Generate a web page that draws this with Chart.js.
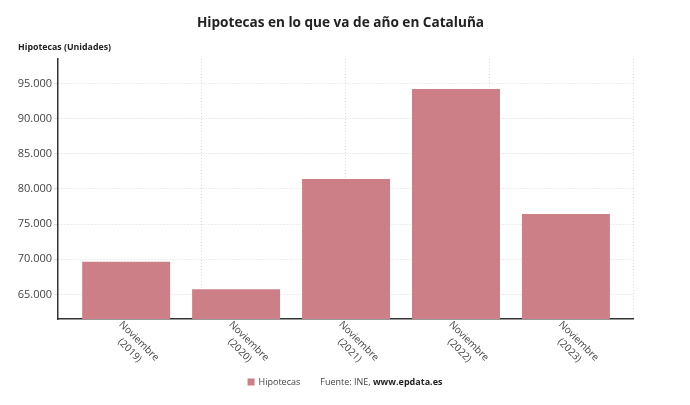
<!DOCTYPE html>
<html>
<head>
<meta charset="utf-8">
<script src="https://cdn.jsdelivr.net/npm/chart.js@4.4.1/dist/chart.umd.min.js"></script>
<style>
  html, body { margin: 0; padding: 0; background: #fff; }
  #wrap { width: 690px; height: 405px; }
</style>
</head>
<body>
<div id="wrap"><canvas id="grafico" width="690" height="405"></canvas></div>
<script>
  // Dati del grafico
  var categorie = [['Noviembre', '(2019)'], ['Noviembre', '(2020)'], ['Noviembre', '(2021)'], ['Noviembre', '(2022)'], ['Noviembre', '(2023)']];
  var hipotecas = [69650, 65730, 81420, 94230, 76440];
  var tickY = [65000, 70000, 75000, 80000, 85000, 90000, 95000];

  var coloreBarra = '#cc7f87';
  var fontBase = 'Open Sans';

  // Formatta i numeri con il punto delle migliaia
  function formatta(v) {
    return v.toString().replace(/\B(?=(\d{3})+(?!\d))/g, '.');
  }

  // Etichette dell'asse x ruotate di 45 gradi e legenda in basso
  var pluginEtichette = {
    id: 'etichette',
    afterDraw: function (chart) {
      var ctx = chart.ctx;
      var x = chart.scales.x;
      var area = chart.chartArea;
      ctx.save();
      ctx.fillStyle = '#444';
      ctx.font = '10px "' + fontBase + '"';
      ctx.textAlign = 'center';
      ctx.textBaseline = 'middle';
      categorie.forEach(function (righe, i) {
        var px = x.getPixelForValue(i);
        ctx.save();
        ctx.translate(px, area.bottom + 1);
        ctx.rotate(Math.PI / 4);
        righe.forEach(function (r, j) {
          ctx.fillText(r, 24, 6 + j * 13);
        });
        ctx.restore();
      });

      // Legenda + fonte
      var y = 382;
      var fs = '9px "' + fontBase + '"';
      ctx.textAlign = 'left';
      ctx.font = fs;
      var etichetta = chart.data.datasets[0].label;
      var wEt = ctx.measureText(etichetta).width;
      var fonte1 = 'Fuente: INE, ';
      var wF1 = ctx.measureText(fonte1).width;
      ctx.font = 'bold ' + fs;
      var fonte2 = 'www.epdata.es';
      var wF2 = ctx.measureText(fonte2).width;
      var totale = 7 + 4 + wEt + 20 + wF1 + wF2;
      var x0 = chart.width / 2 - totale / 2;
      ctx.fillStyle = coloreBarra;
      ctx.fillRect(x0, y - 3.5, 7, 7);
      ctx.fillStyle = '#444';
      ctx.font = fs;
      ctx.fillText(etichetta, x0 + 11, y);
      var xf = x0 + 11 + wEt + 20;
      ctx.fillText(fonte1, xf, y);
      ctx.fillStyle = '#222';
      ctx.font = 'bold ' + fs;
      ctx.fillText(fonte2, xf + wF1, y);
      ctx.restore();
    }
  };

  var dati = {
    datasets: [{
      label: 'Hipotecas',
      data: hipotecas.map(function (v, i) { return { x: i, y: v }; }),
      backgroundColor: coloreBarra,
      borderWidth: 0,
      categoryPercentage: 1,
      barPercentage: 0.8
    }]
  };

  var opzioni = {
    responsive: false,
    animation: false,
    layout: { padding: { left: 18, right: 27, top: 0, bottom: 86 } },
    plugins: {
      legend: { display: false },
      tooltip: { enabled: false },
      title: {
        display: true,
        text: 'Hipotecas en lo que va de año en Cataluña',
        color: '#222',
        font: { family: fontBase, size: 13.6, weight: 'bold' },
        padding: { top: 15, bottom: 0 }
      },
      subtitle: {
        display: true,
        text: 'Hipotecas (Unidades)',
        align: 'start',
        color: '#222',
        font: { family: fontBase, size: 8.8, weight: 'bold' },
        padding: { top: 11, bottom: 6 }
      }
    },
    scales: {
      x: {
        type: 'linear',
        position: 'bottom',
        offset: false,
        min: -0.62,
        max: 4.61,
        grid: { display: false, offset: false },
        border: { display: true, color: '#333', width: 1.5 },
        ticks: { display: false },
        afterBuildTicks: function (s) {
          s.ticks = categorie.map(function (c, i) { return { value: i }; });
        },
        afterFit: function (s) { s.height = 0; }
      },
      x2: {
        type: 'linear',
        position: 'bottom',
        offset: false,
        min: 0,
        max: 4,
        grid: { color: '#d8d8e4', drawTicks: false, offset: false },
        border: { display: false, dash: [1, 2] },
        ticks: { display: false, stepSize: 1 },
        afterBuildTicks: function (s) {
          s.ticks = s.ticks.filter(function (t) { return t.value > 0; });
        },
        afterFit: function (s) { s.height = 0; }
      },
      y: {
        min: 61500,
        max: 98500,
        grid: { color: '#d8d8e4', tickLength: 4 },
        border: { display: true, color: '#333', width: 1.5, dash: [1, 2] },
        ticks: {
          color: '#444',
          font: { family: fontBase, size: 11 },
          padding: 2,
          callback: function (v) { return formatta(v); }
        },
        afterBuildTicks: function (s) {
          s.ticks = tickY.map(function (v) { return { value: v }; });
        },
        afterFit: function (s) { s.width = 40; }
      },
      // asse vuoto a destra: solo spazio, così il titolo resta centrato come nell'originale
      y2: {
        position: 'right',
        grid: { display: false },
        border: { display: false },
        ticks: { display: false },
        afterFit: function (s) { s.width = 30; }
      }
    }
  };

  var grafico = new Chart(document.getElementById('grafico').getContext('2d'), {
    type: 'bar',
    data: dati,
    options: opzioni,
    plugins: [pluginEtichette]
  });
</script>
</body>
</html>
